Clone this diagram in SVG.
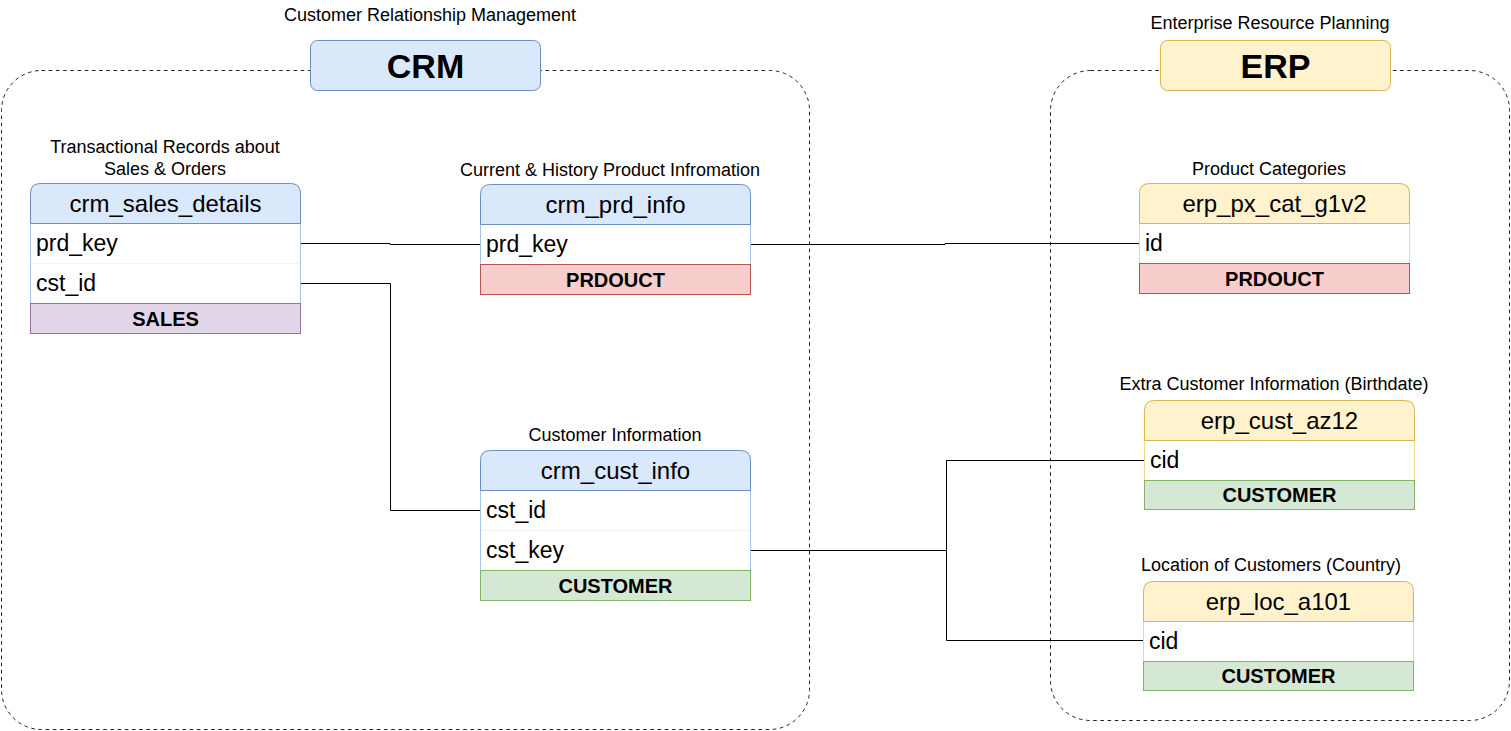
<svg xmlns="http://www.w3.org/2000/svg" width="1511" height="731" viewBox="0 0 1511 731">
<style>
.lbl{font-family:"Liberation Sans",Arial,sans-serif;font-size:18px;fill:#000;text-anchor:middle}
.ttl{font-family:"Liberation Sans",Arial,sans-serif;font-size:34px;font-weight:bold;fill:#000;text-anchor:middle}
.hdr{font-family:"Liberation Sans",Arial,sans-serif;font-size:24px;fill:#000;text-anchor:middle}
.row{font-family:"Liberation Sans",Arial,sans-serif;font-size:23px;fill:#000}
.ftr{font-family:"Liberation Sans",Arial,sans-serif;font-size:20px;font-weight:bold;fill:#000;text-anchor:middle}
.cont{fill:none;stroke:#222;stroke-width:1;stroke-dasharray:3.6 3.6}
.bh{fill:#dae8fc;stroke:#6c8ebf}
.yh{fill:#fff2cc;stroke:#d6b656}
.bb{fill:#fff;stroke:#a9c4eb}
.yb{fill:#fff;stroke:#efd88f}
.sep{stroke:#eef3fb;stroke-width:1}
.red{fill:#f8cecc;stroke:#b85450}
.grn{fill:#d5e8d4;stroke:#82b366}
.pur{fill:#e1d5e7;stroke:#9673a6}
.conn path{fill:none;stroke:#000;stroke-width:1}
</style>

<g id="crm-container">
<rect class="cont" x="1.5" y="70.5" width="808" height="659" rx="40"/>
<rect class="bh" x="310.5" y="40.5" width="230" height="50" rx="7"/>
<text class="ttl" x="425.5" y="78">CRM</text>
<text class="lbl" x="430" y="21">Customer Relationship Management</text>
</g>

<g id="erp-container">
<rect class="cont" x="1050.5" y="70.5" width="459" height="650" rx="40"/>
<rect class="yh" x="1160.5" y="40.5" width="230" height="50" rx="7"/>
<text class="ttl" x="1275.5" y="78">ERP</text>
<text class="lbl" x="1270" y="29">Enterprise Resource Planning</text>
</g>

<g class="conn" id="connectors">
<path d="M300 243.5 H390 V244.5 H480"/>
<path d="M300 283.5 H390.5 V510.5 H480"/>
<path d="M750 244.5 H945 V243.5 H1139"/>
<path d="M750 550.5 H946.5 V460.5 H1144"/>
<path d="M946.5 550.5 V640.5 H1143"/>
</g>

<g id="crm_sales_details">
<text class="lbl" x="165" y="153">Transactional Records about</text>
<text class="lbl" x="165" y="175">Sales &amp; Orders</text>
<rect class="bb" x="30.5" y="223.5" width="270" height="80"/>
<line class="sep" x1="31" y1="263.5" x2="300" y2="263.5"/>
<path class="bh" d="M30.5 223.5 V193.5 Q30.5 183.5 40.5 183.5 H290.5 Q300.5 183.5 300.5 193.5 V223.5 Z"/>
<rect class="pur" x="30.5" y="303.5" width="270" height="30"/>
<text class="hdr" x="165.5" y="211.5">crm_sales_details</text>
<text class="row" x="36" y="251">prd_key</text>
<text class="row" x="36" y="291">cst_id</text>
<text class="ftr" x="165.5" y="325.5">SALES</text>
</g>

<g id="crm_prd_info">
<text class="lbl" x="610" y="176">Current &amp; History Product Infromation</text>
<rect class="bb" x="480.5" y="224.5" width="270" height="40"/>
<path class="bh" d="M480.5 224.5 V194.5 Q480.5 184.5 490.5 184.5 H740.5 Q750.5 184.5 750.5 194.5 V224.5 Z"/>
<rect class="red" x="480.5" y="264.5" width="270" height="30"/>
<text class="hdr" x="615.5" y="212.5">crm_prd_info</text>
<text class="row" x="486" y="252">prd_key</text>
<text class="ftr" x="615.5" y="286.5">PRDOUCT</text>
</g>

<g id="crm_cust_info">
<text class="lbl" x="615" y="441">Customer Information</text>
<rect class="bb" x="480.5" y="490.5" width="270" height="80"/>
<line class="sep" x1="481" y1="530.5" x2="750" y2="530.5"/>
<path class="bh" d="M480.5 490.5 V460.5 Q480.5 450.5 490.5 450.5 H740.5 Q750.5 450.5 750.5 460.5 V490.5 Z"/>
<rect class="grn" x="480.5" y="570.5" width="270" height="30"/>
<text class="hdr" x="615.5" y="478.5">crm_cust_info</text>
<text class="row" x="486" y="518">cst_id</text>
<text class="row" x="486" y="558">cst_key</text>
<text class="ftr" x="615.5" y="592.5">CUSTOMER</text>
</g>

<g id="erp_px_cat_g1v2">
<text class="lbl" x="1269" y="175">Product Categories</text>
<rect class="yb" x="1139.5" y="223.5" width="270" height="40"/>
<path class="yh" d="M1139.5 223.5 V193.5 Q1139.5 183.5 1149.5 183.5 H1399.5 Q1409.5 183.5 1409.5 193.5 V223.5 Z"/>
<rect class="red" x="1139.5" y="263.5" width="270" height="30"/>
<text class="hdr" x="1274.5" y="211.5">erp_px_cat_g1v2</text>
<text class="row" x="1145" y="251">id</text>
<text class="ftr" x="1274.5" y="285.5">PRDOUCT</text>
</g>

<g id="erp_cust_az12">
<text class="lbl" x="1274" y="390">Extra Customer Information (Birthdate)</text>
<rect class="yb" x="1144.5" y="440.5" width="270" height="40"/>
<path class="yh" d="M1144.5 440.5 V410.5 Q1144.5 400.5 1154.5 400.5 H1404.5 Q1414.5 400.5 1414.5 410.5 V440.5 Z"/>
<rect class="grn" x="1144.5" y="480.5" width="270" height="29"/>
<text class="hdr" x="1279.5" y="428.5">erp_cust_az12</text>
<text class="row" x="1150" y="468">cid</text>
<text class="ftr" x="1279.5" y="502">CUSTOMER</text>
</g>

<g id="erp_loc_a101">
<text class="lbl" x="1271" y="571">Location of Customers (Country)</text>
<rect class="yb" x="1143.5" y="621.5" width="270" height="40"/>
<path class="yh" d="M1143.5 621.5 V591.5 Q1143.5 581.5 1153.5 581.5 H1403.5 Q1413.5 581.5 1413.5 591.5 V621.5 Z"/>
<rect class="grn" x="1143.5" y="661.5" width="270" height="29"/>
<text class="hdr" x="1278.5" y="609.5">erp_loc_a101</text>
<text class="row" x="1149" y="649">cid</text>
<text class="ftr" x="1278.5" y="683">CUSTOMER</text>
</g>
</svg>
